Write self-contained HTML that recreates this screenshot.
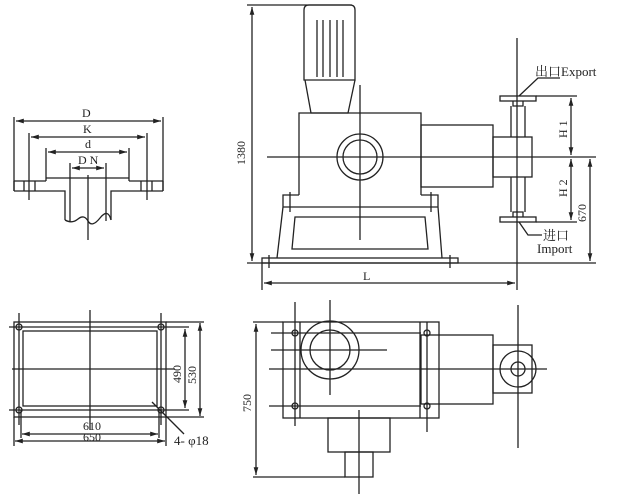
<!DOCTYPE html>
<html><head><style>html,body{margin:0;padding:0;background:#fff}svg{display:block}</style></head><body>
<svg width="621" height="499" viewBox="0 0 621 499" xmlns="http://www.w3.org/2000/svg" font-family="'Liberation Serif','Noto Serif CJK SC',serif" font-size="12" fill="none" stroke="#222" stroke-width="1.3">
<defs><marker id="a" viewBox="0 0 10 10" refX="10" refY="5" markerWidth="6" markerHeight="6" orient="auto-start-reverse"><path d="M0,2L10,5L0,8z" fill="#222" stroke="none"/></marker></defs>
<!-- flange view -->
<g>
<line x1="14" y1="117" x2="14" y2="191"/><line x1="163" y1="117" x2="163" y2="191"/>
<line x1="16" y1="121" x2="161" y2="121" marker-start="url(#a)" marker-end="url(#a)"/>
<line x1="29" y1="133" x2="29" y2="200"/><line x1="147" y1="133" x2="147" y2="200"/>
<line x1="31" y1="137" x2="145" y2="137" marker-start="url(#a)" marker-end="url(#a)"/>
<line x1="46" y1="148" x2="46" y2="181"/><line x1="129" y1="148" x2="129" y2="181"/>
<line x1="48" y1="152" x2="127" y2="152" marker-start="url(#a)" marker-end="url(#a)"/>
<line x1="70" y1="163" x2="70" y2="221"/><line x1="106" y1="163" x2="106" y2="221"/>
<line x1="72" y1="168" x2="104" y2="168" marker-start="url(#a)" marker-end="url(#a)"/>
<path d="M46,178H129M14,181H46M129,181H163M14,191H65V220M163,191H111V220M14,181V191M163,181V191"/>
<path d="M65,220Q72,224 78,219T88,221T100,218T111,220"/>
<path d="M24,181V191M35,181V191M141,181V191M152,181V191"/>
<line x1="88" y1="175" x2="88" y2="240"/>
<g fill="#222" stroke="none"><text x="82" y="117">D</text><text x="83" y="133">K</text><text x="85" y="148">d</text><text x="78" y="164">D N</text></g>
</g>
<!-- base plan -->
<g>
<rect x="14" y="322" width="152" height="95"/><rect x="23" y="331" width="134" height="75"/>
<path d="M9,327H189M9,410H189M12,369H175M90,310V430M19,313V425M161,313V425"/>
<circle cx="19" cy="327" r="3"/><circle cx="161" cy="327" r="3"/><circle cx="19" cy="410" r="3"/><circle cx="161" cy="410" r="3"/>
<line x1="166" y1="322" x2="204" y2="322"/><line x1="166" y1="417" x2="204" y2="417"/>
<line x1="185" y1="329" x2="185" y2="408" marker-start="url(#a)" marker-end="url(#a)"/>
<line x1="200" y1="323" x2="200" y2="416" marker-start="url(#a)" marker-end="url(#a)"/>
<path d="M14,417V446M166,417V446M21,410V438M159,410V438"/>
<line x1="22" y1="434" x2="158" y2="434" marker-start="url(#a)" marker-end="url(#a)"/>
<line x1="15" y1="441" x2="165" y2="441" marker-start="url(#a)" marker-end="url(#a)"/>
<path d="M152,402L184,434"/>
<g fill="#222" stroke="none"><text x="83" y="430">610</text><text x="83" y="441">650</text><text x="174" y="445" font-size="13">4- φ18</text>
<text transform="translate(181,383) rotate(-90)">490</text><text transform="translate(196,384) rotate(-90)">530</text></g>
</g>
<!-- front view -->
<g>
<line x1="247" y1="5" x2="352" y2="5"/>
<line x1="252" y1="7" x2="252" y2="261" marker-start="url(#a)" marker-end="url(#a)"/>
<path d="M304,80V10Q304,5 309,5H350Q355,5 355,10V80Z"/>
<path d="M317,20V77M323,20V77M330,20V77M337,20V77M343,20V77"/>
<path d="M305,80L311,113H348L355,80"/>
<path d="M299,195V113H421V195M299,195H283V207M421,195H438V207M283,207H438M283,207L277,258M438,207L442,258"/>
<path d="M290,192V212M431,192V212"/>
<path d="M295,217H425L428,249H292Z"/>
<rect x="262" y="258" width="196" height="5"/>
<path d="M269,255V268M450,255V268"/>
<line x1="247" y1="263" x2="596" y2="263"/>
<circle cx="360" cy="157" r="23"/><circle cx="360" cy="157" r="17"/>
<line x1="267" y1="157" x2="596" y2="157"/>
<line x1="360" y1="85" x2="360" y2="240"/>
<rect x="421" y="125" width="72" height="62"/>
<rect x="493" y="137" width="39" height="40"/>
<path d="M511,106V137M525,106V137M511,177V212M525,177V212M513,101V106H523V101M513,217V212H523V217"/>
<rect x="500" y="96" width="36" height="5"/><rect x="500" y="217" width="36" height="5"/>
<line x1="517" y1="38" x2="517" y2="290"/>
<line x1="262" y1="263" x2="262" y2="290"/>
<line x1="264" y1="283" x2="515" y2="283" marker-start="url(#a)" marker-end="url(#a)"/>
<path d="M536,96H577M536,222H577"/>
<line x1="571" y1="98" x2="571" y2="155" marker-start="url(#a)" marker-end="url(#a)"/>
<line x1="571" y1="159" x2="571" y2="220" marker-start="url(#a)" marker-end="url(#a)"/>
<line x1="590" y1="159" x2="590" y2="261" marker-start="url(#a)" marker-end="url(#a)"/>
<path d="M519,96L538,78H560M519,222L528,235H542"/>
<g fill="#222" stroke="none">
<text x="535" y="76" font-size="13">出口Export</text>
<text x="543" y="240" font-size="13">进口</text><text x="537" y="253" font-size="13">Import</text>
<text x="363" y="280">L</text>
<text transform="translate(245,165) rotate(-90)">1380</text>
<text transform="translate(567,138) rotate(-90)">H 1</text>
<text transform="translate(567,197) rotate(-90)">H 2</text>
<text transform="translate(586,222) rotate(-90)">670</text>
</g>
</g>
<!-- top view -->
<g>
<rect x="283" y="322" width="156" height="96"/>
<path d="M300,322V418M420,322V418"/>
<path d="M295,302V426M427,322V432"/>
<circle cx="295" cy="333" r="3"/><circle cx="427" cy="333" r="3"/><circle cx="295" cy="406" r="3"/><circle cx="427" cy="406" r="3"/>
<path d="M271,333H421M271,350H387M269,369H547M269,406H421"/>
<circle cx="330" cy="350" r="29"/><circle cx="330" cy="350" r="20"/>
<line x1="330" y1="300" x2="330" y2="395"/>
<rect x="421" y="335" width="72" height="69"/>
<rect x="493" y="345" width="39" height="48"/>
<circle cx="518" cy="369" r="18"/><circle cx="518" cy="369" r="7"/>
<line x1="518" y1="305" x2="518" y2="448"/>
<rect x="328" y="418" width="62" height="34"/>
<rect x="345" y="452" width="28" height="25"/>
<line x1="359" y1="410" x2="359" y2="494"/>
<path d="M253,322H283M253,477H345"/>
<line x1="256" y1="324" x2="256" y2="475" marker-start="url(#a)" marker-end="url(#a)"/>
<text transform="translate(251,412) rotate(-90)" fill="#222" stroke="none">750</text>
</g>
</svg>
</body></html>
